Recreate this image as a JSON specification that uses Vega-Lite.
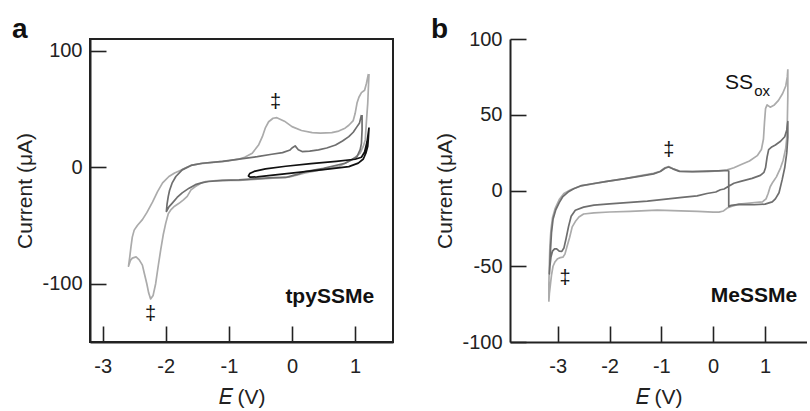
{
  "$schema": "https://vega.github.io/schema/vega-lite/v6.json",
  "padding": {"left": 10, "top": 15, "right": 0, "bottom": 0},
  "background": "white",
  "spacing": 36,
  "config": {
    "font": "Liberation Sans",
    "axis": {
      "grid": false,
      "domainColor": "#222",
      "domainWidth": 2,
      "tickColor": "#222",
      "tickWidth": 1.6,
      "tickSize": -16,
      "labelFont": "Liberation Sans",
      "labelFontSize": 20,
      "labelColor": "#222",
      "titleFont": "Liberation Sans",
      "titleFontSize": 21,
      "titleFontWeight": "normal",
      "titleColor": "#222",
      "format": "d",
      "labelExpr": "replace(datum.label, '\u2212', '-')"
    },
    "axisX": {"labelPadding": 30, "titlePadding": 10},
    "axisY": {"labelPadding": 24, "titlePadding": 6},
    "title": {"font": "Liberation Sans", "fontSize": 28, "fontWeight": "bold", "color": "#111", "anchor": "start", "frame": "bounds"}
  },
  "datasets": {
    "A": [
      {"t":"a1","i":0,"E":1.21,"I":80},{"t":"a1","i":1,"E":1.18,"I":72},{"t":"a1","i":2,"E":1.15,"I":66},{"t":"a1","i":3,"E":1.1,"I":64},{"t":"a1","i":4,"E":1.06,"I":60},{"t":"a1","i":5,"E":1.03,"I":55},{"t":"a1","i":6,"E":1.0,"I":46},{"t":"a1","i":7,"E":0.97,"I":40},{"t":"a1","i":8,"E":0.9,"I":36},{"t":"a1","i":9,"E":0.84,"I":33.5},{"t":"a1","i":10,"E":0.74,"I":31},{"t":"a1","i":11,"E":0.63,"I":29.7},{"t":"a1","i":12,"E":0.45,"I":29.2},{"t":"a1","i":13,"E":0.32,"I":29.7},{"t":"a1","i":14,"E":0.15,"I":31.5},{"t":"a1","i":15,"E":0.0,"I":34.8},{"t":"a1","i":16,"E":-0.12,"I":39.5},{"t":"a1","i":17,"E":-0.24,"I":42.5},{"t":"a1","i":18,"E":-0.3,"I":42},{"t":"a1","i":19,"E":-0.37,"I":39},{"t":"a1","i":20,"E":-0.42,"I":34},{"t":"a1","i":21,"E":-0.47,"I":26.2},{"t":"a1","i":22,"E":-0.53,"I":19},{"t":"a1","i":23,"E":-0.63,"I":12},{"t":"a1","i":24,"E":-0.75,"I":8.5},{"t":"a1","i":25,"E":-0.84,"I":6.9},{"t":"a1","i":26,"E":-1.0,"I":5.5},{"t":"a1","i":27,"E":-1.21,"I":4.3},{"t":"a1","i":28,"E":-1.45,"I":3},{"t":"a1","i":29,"E":-1.6,"I":1.5},{"t":"a1","i":30,"E":-1.7,"I":-1},{"t":"a1","i":31,"E":-1.78,"I":-3},{"t":"a1","i":32,"E":-1.86,"I":-5},{"t":"a1","i":33,"E":-1.95,"I":-8},{"t":"a1","i":34,"E":-2.05,"I":-13.5},{"t":"a1","i":35,"E":-2.13,"I":-21},{"t":"a1","i":36,"E":-2.21,"I":-30},{"t":"a1","i":37,"E":-2.3,"I":-39},{"t":"a1","i":38,"E":-2.37,"I":-45},{"t":"a1","i":39,"E":-2.45,"I":-50},{"t":"a1","i":40,"E":-2.5,"I":-54},{"t":"a1","i":41,"E":-2.53,"I":-60},{"t":"a1","i":42,"E":-2.55,"I":-68},{"t":"a1","i":43,"E":-2.57,"I":-77},{"t":"a1","i":44,"E":-2.59,"I":-85},{"t":"a1","i":45,"E":-2.56,"I":-80},{"t":"a1","i":46,"E":-2.53,"I":-78},{"t":"a1","i":47,"E":-2.47,"I":-77},{"t":"a1","i":48,"E":-2.42,"I":-79.5},{"t":"a1","i":49,"E":-2.37,"I":-84},{"t":"a1","i":50,"E":-2.34,"I":-91},{"t":"a1","i":51,"E":-2.3,"I":-100},{"t":"a1","i":52,"E":-2.27,"I":-108},{"t":"a1","i":53,"E":-2.24,"I":-113},{"t":"a1","i":54,"E":-2.2,"I":-110},{"t":"a1","i":55,"E":-2.16,"I":-100},{"t":"a1","i":56,"E":-2.12,"I":-85},{"t":"a1","i":57,"E":-2.08,"I":-71},{"t":"a1","i":58,"E":-2.04,"I":-58},{"t":"a1","i":59,"E":-2.0,"I":-48},{"t":"a1","i":60,"E":-1.96,"I":-40},{"t":"a1","i":61,"E":-1.92,"I":-36.6},{"t":"a1","i":62,"E":-1.86,"I":-33.5},{"t":"a1","i":63,"E":-1.79,"I":-31},{"t":"a1","i":64,"E":-1.72,"I":-28},{"t":"a1","i":65,"E":-1.66,"I":-25},{"t":"a1","i":66,"E":-1.6,"I":-19.5},{"t":"a1","i":67,"E":-1.53,"I":-16.6},{"t":"a1","i":68,"E":-1.45,"I":-14},{"t":"a1","i":69,"E":-1.37,"I":-12.3},{"t":"a1","i":70,"E":-1.2,"I":-11.5},{"t":"a1","i":71,"E":-1.0,"I":-11.3},{"t":"a1","i":72,"E":-0.84,"I":-11.3},{"t":"a1","i":73,"E":-0.6,"I":-10.5},{"t":"a1","i":74,"E":-0.3,"I":-9.5},{"t":"a1","i":75,"E":-0.05,"I":-8.6},{"t":"a1","i":76,"E":0.21,"I":-5},{"t":"a1","i":77,"E":0.5,"I":-2},{"t":"a1","i":78,"E":0.74,"I":0.5},{"t":"a1","i":79,"E":0.95,"I":6.3},{"t":"a1","i":80,"E":1.08,"I":12},{"t":"a1","i":81,"E":1.13,"I":18},{"t":"a1","i":82,"E":1.16,"I":23.4},{"t":"a1","i":83,"E":1.18,"I":40},{"t":"a1","i":84,"E":1.2,"I":55},{"t":"a1","i":85,"E":1.21,"I":68},{"t":"a1","i":86,"E":1.22,"I":80},
      {"t":"a2","i":0,"E":1.1,"I":44.8},{"t":"a2","i":1,"E":1.07,"I":38},{"t":"a2","i":2,"E":1.03,"I":34.8},{"t":"a2","i":3,"E":0.97,"I":30},{"t":"a2","i":4,"E":0.9,"I":26.2},{"t":"a2","i":5,"E":0.8,"I":22.5},{"t":"a2","i":6,"E":0.69,"I":19},{"t":"a2","i":7,"E":0.55,"I":16.5},{"t":"a2","i":8,"E":0.42,"I":14.8},{"t":"a2","i":9,"E":0.28,"I":13.8},{"t":"a2","i":10,"E":0.16,"I":13.4},{"t":"a2","i":11,"E":0.1,"I":15},{"t":"a2","i":12,"E":0.05,"I":18.3},{"t":"a2","i":13,"E":0.0,"I":16.5},{"t":"a2","i":14,"E":-0.03,"I":14.8},{"t":"a2","i":15,"E":-0.15,"I":12.5},{"t":"a2","i":16,"E":-0.32,"I":11.1},{"t":"a2","i":17,"E":-0.55,"I":9},{"t":"a2","i":18,"E":-0.84,"I":6.9},{"t":"a2","i":19,"E":-1.1,"I":5},{"t":"a2","i":20,"E":-1.42,"I":3.4},{"t":"a2","i":21,"E":-1.6,"I":1.5},{"t":"a2","i":22,"E":-1.74,"I":-2.3},{"t":"a2","i":23,"E":-1.84,"I":-8},{"t":"a2","i":24,"E":-1.9,"I":-13.7},{"t":"a2","i":25,"E":-1.94,"I":-20},{"t":"a2","i":26,"E":-1.96,"I":-25},{"t":"a2","i":27,"E":-1.98,"I":-32},{"t":"a2","i":28,"E":-1.99,"I":-38},{"t":"a2","i":29,"E":-1.95,"I":-34},{"t":"a2","i":30,"E":-1.9,"I":-31},{"t":"a2","i":31,"E":-1.82,"I":-26},{"t":"a2","i":32,"E":-1.74,"I":-22},{"t":"a2","i":33,"E":-1.63,"I":-18},{"t":"a2","i":34,"E":-1.53,"I":-15},{"t":"a2","i":35,"E":-1.42,"I":-13.2},{"t":"a2","i":36,"E":-1.32,"I":-12.3},{"t":"a2","i":37,"E":-1.1,"I":-11.3},{"t":"a2","i":38,"E":-0.84,"I":-10.8},{"t":"a2","i":39,"E":-0.6,"I":-10},{"t":"a2","i":40,"E":-0.3,"I":-9},{"t":"a2","i":41,"E":-0.1,"I":-8.8},{"t":"a2","i":42,"E":0.02,"I":-7},{"t":"a2","i":43,"E":0.1,"I":-6},{"t":"a2","i":44,"E":0.21,"I":-3.7},{"t":"a2","i":45,"E":0.5,"I":-1},{"t":"a2","i":46,"E":0.84,"I":3.4},{"t":"a2","i":47,"E":1.03,"I":9},{"t":"a2","i":48,"E":1.08,"I":15},{"t":"a2","i":49,"E":1.1,"I":20.5},{"t":"a2","i":50,"E":1.11,"I":32},{"t":"a2","i":51,"E":1.11,"I":44.8},
      {"t":"a3","i":0,"E":1.22,"I":34},{"t":"a3","i":1,"E":1.21,"I":25},{"t":"a3","i":2,"E":1.2,"I":18},{"t":"a3","i":3,"E":1.17,"I":12},{"t":"a3","i":4,"E":1.13,"I":7},{"t":"a3","i":5,"E":1.05,"I":3.5},{"t":"a3","i":6,"E":0.9,"I":0.5},{"t":"a3","i":7,"E":0.6,"I":-1.5},{"t":"a3","i":8,"E":0.1,"I":-4.5},{"t":"a3","i":9,"E":-0.3,"I":-6.8},{"t":"a3","i":10,"E":-0.55,"I":-8.3},{"t":"a3","i":11,"E":-0.66,"I":-8.6},{"t":"a3","i":12,"E":-0.69,"I":-7.5},{"t":"a3","i":13,"E":-0.67,"I":-5.5},{"t":"a3","i":14,"E":-0.6,"I":-3.6},{"t":"a3","i":15,"E":-0.42,"I":-1.5},{"t":"a3","i":16,"E":-0.1,"I":0.8},{"t":"a3","i":17,"E":0.3,"I":3},{"t":"a3","i":18,"E":0.7,"I":5},{"t":"a3","i":19,"E":1.0,"I":6.8},{"t":"a3","i":20,"E":1.1,"I":8.5},{"t":"a3","i":21,"E":1.15,"I":13},{"t":"a3","i":22,"E":1.19,"I":22},{"t":"a3","i":23,"E":1.22,"I":34}
    ],
    "B": [
      {"t":"b1","i":0,"E":1.44,"I":80},{"t":"b1","i":1,"E":1.44,"I":62},{"t":"b1","i":2,"E":1.43,"I":45},{"t":"b1","i":3,"E":1.42,"I":35},{"t":"b1","i":4,"E":1.4,"I":28},{"t":"b1","i":5,"E":1.35,"I":20},{"t":"b1","i":6,"E":1.3,"I":15},{"t":"b1","i":7,"E":1.22,"I":9},{"t":"b1","i":8,"E":1.15,"I":5.5},{"t":"b1","i":9,"E":1.1,"I":2.5},{"t":"b1","i":10,"E":1.06,"I":-2},{"t":"b1","i":11,"E":1.02,"I":-5.5},{"t":"b1","i":12,"E":0.95,"I":-7.5},{"t":"b1","i":13,"E":0.75,"I":-8.2},{"t":"b1","i":14,"E":0.5,"I":-9},{"t":"b1","i":15,"E":0.35,"I":-10.5},{"t":"b1","i":16,"E":0.27,"I":-11.6},{"t":"b1","i":17,"E":0.2,"I":-13.5},{"t":"b1","i":18,"E":0.11,"I":-14.3},{"t":"b1","i":19,"E":0.0,"I":-14.3},{"t":"b1","i":20,"E":-0.3,"I":-13.8},{"t":"b1","i":21,"E":-0.63,"I":-13.4},{"t":"b1","i":22,"E":-1.08,"I":-13},{"t":"b1","i":23,"E":-1.6,"I":-13.8},{"t":"b1","i":24,"E":-2.0,"I":-14.2},{"t":"b1","i":25,"E":-2.3,"I":-14.8},{"t":"b1","i":26,"E":-2.5,"I":-15.5},{"t":"b1","i":27,"E":-2.59,"I":-17.5},{"t":"b1","i":28,"E":-2.66,"I":-20.5},{"t":"b1","i":29,"E":-2.72,"I":-24},{"t":"b1","i":30,"E":-2.77,"I":-31},{"t":"b1","i":31,"E":-2.82,"I":-37},{"t":"b1","i":32,"E":-2.86,"I":-42},{"t":"b1","i":33,"E":-2.9,"I":-44},{"t":"b1","i":34,"E":-2.95,"I":-44.3},{"t":"b1","i":35,"E":-3.0,"I":-45},{"t":"b1","i":36,"E":-3.05,"I":-47},{"t":"b1","i":37,"E":-3.09,"I":-50},{"t":"b1","i":38,"E":-3.12,"I":-56},{"t":"b1","i":39,"E":-3.14,"I":-62},{"t":"b1","i":40,"E":-3.16,"I":-68},{"t":"b1","i":41,"E":-3.17,"I":-73},{"t":"b1","i":42,"E":-3.17,"I":-62},{"t":"b1","i":43,"E":-3.16,"I":-48},{"t":"b1","i":44,"E":-3.15,"I":-36},{"t":"b1","i":45,"E":-3.13,"I":-26},{"t":"b1","i":46,"E":-3.1,"I":-18},{"t":"b1","i":47,"E":-3.05,"I":-12},{"t":"b1","i":48,"E":-2.97,"I":-6},{"t":"b1","i":49,"E":-2.88,"I":-2},{"t":"b1","i":50,"E":-2.75,"I":0.5},{"t":"b1","i":51,"E":-2.56,"I":3},{"t":"b1","i":52,"E":-2.3,"I":4.5},{"t":"b1","i":53,"E":-2.05,"I":6},{"t":"b1","i":54,"E":-1.7,"I":7.8},{"t":"b1","i":55,"E":-1.4,"I":9.8},{"t":"b1","i":56,"E":-1.15,"I":11.3},{"t":"b1","i":57,"E":-1.02,"I":12.7},{"t":"b1","i":58,"E":-0.93,"I":15},{"t":"b1","i":59,"E":-0.86,"I":15.8},{"t":"b1","i":60,"E":-0.78,"I":14.5},{"t":"b1","i":61,"E":-0.65,"I":12.8},{"t":"b1","i":62,"E":-0.4,"I":12.4},{"t":"b1","i":63,"E":-0.12,"I":12.5},{"t":"b1","i":64,"E":0.1,"I":13},{"t":"b1","i":65,"E":0.27,"I":13.6},{"t":"b1","i":66,"E":0.4,"I":15},{"t":"b1","i":67,"E":0.53,"I":17},{"t":"b1","i":68,"E":0.7,"I":19.5},{"t":"b1","i":69,"E":0.85,"I":23},{"t":"b1","i":70,"E":0.93,"I":27},{"t":"b1","i":71,"E":0.97,"I":34},{"t":"b1","i":72,"E":0.99,"I":45},{"t":"b1","i":73,"E":1.01,"I":54},{"t":"b1","i":74,"E":1.04,"I":56.5},{"t":"b1","i":75,"E":1.1,"I":55},{"t":"b1","i":76,"E":1.18,"I":56.5},{"t":"b1","i":77,"E":1.26,"I":59.5},{"t":"b1","i":78,"E":1.34,"I":64},{"t":"b1","i":79,"E":1.4,"I":69},{"t":"b1","i":80,"E":1.43,"I":75},{"t":"b1","i":81,"E":1.44,"I":80},
      {"t":"b2","i":0,"E":0.3,"I":13.2},{"t":"b2","i":1,"E":0.1,"I":13},{"t":"b2","i":2,"E":-0.12,"I":12.8},{"t":"b2","i":3,"E":-0.4,"I":12.4},{"t":"b2","i":4,"E":-0.65,"I":12.6},{"t":"b2","i":5,"E":-0.78,"I":14.3},{"t":"b2","i":6,"E":-0.86,"I":15.5},{"t":"b2","i":7,"E":-0.93,"I":14.7},{"t":"b2","i":8,"E":-1.02,"I":12.5},{"t":"b2","i":9,"E":-1.15,"I":11},{"t":"b2","i":10,"E":-1.4,"I":9.5},{"t":"b2","i":11,"E":-1.7,"I":7.8},{"t":"b2","i":12,"E":-2.05,"I":6},{"t":"b2","i":13,"E":-2.3,"I":4.6},{"t":"b2","i":14,"E":-2.56,"I":3},{"t":"b2","i":15,"E":-2.69,"I":1.2},{"t":"b2","i":16,"E":-2.8,"I":-1},{"t":"b2","i":17,"E":-2.9,"I":-4},{"t":"b2","i":18,"E":-2.97,"I":-8},{"t":"b2","i":19,"E":-3.04,"I":-13},{"t":"b2","i":20,"E":-3.09,"I":-19},{"t":"b2","i":21,"E":-3.12,"I":-28},{"t":"b2","i":22,"E":-3.14,"I":-40},{"t":"b2","i":23,"E":-3.15,"I":-48},{"t":"b2","i":24,"E":-3.16,"I":-55},{"t":"b2","i":25,"E":-3.15,"I":-50},{"t":"b2","i":26,"E":-3.13,"I":-44},{"t":"b2","i":27,"E":-3.1,"I":-40},{"t":"b2","i":28,"E":-3.06,"I":-38.5},{"t":"b2","i":29,"E":-3.02,"I":-38.5},{"t":"b2","i":30,"E":-2.97,"I":-40},{"t":"b2","i":31,"E":-2.92,"I":-40.2},{"t":"b2","i":32,"E":-2.88,"I":-38},{"t":"b2","i":33,"E":-2.84,"I":-32},{"t":"b2","i":34,"E":-2.79,"I":-23.7},{"t":"b2","i":35,"E":-2.74,"I":-17},{"t":"b2","i":36,"E":-2.66,"I":-13},{"t":"b2","i":37,"E":-2.5,"I":-11},{"t":"b2","i":38,"E":-2.3,"I":-9.6},{"t":"b2","i":39,"E":-2.0,"I":-8.8},{"t":"b2","i":40,"E":-1.6,"I":-7.8},{"t":"b2","i":41,"E":-1.27,"I":-7},{"t":"b2","i":42,"E":-1.0,"I":-6},{"t":"b2","i":43,"E":-0.6,"I":-4.5},{"t":"b2","i":44,"E":-0.31,"I":-3.5},{"t":"b2","i":45,"E":-0.12,"I":-2},{"t":"b2","i":46,"E":0.05,"I":-1},{"t":"b2","i":47,"E":0.14,"I":0.5},{"t":"b2","i":48,"E":0.21,"I":1},{"t":"b2","i":49,"E":0.29,"I":2.6},{"t":"b2","i":50,"E":0.4,"I":4.8},{"t":"b2","i":51,"E":0.53,"I":6},{"t":"b2","i":52,"E":0.75,"I":8},{"t":"b2","i":53,"E":0.91,"I":10},{"t":"b2","i":54,"E":0.98,"I":12},{"t":"b2","i":55,"E":1.01,"I":15},{"t":"b2","i":56,"E":1.04,"I":22},{"t":"b2","i":57,"E":1.07,"I":27},{"t":"b2","i":58,"E":1.12,"I":28.5},{"t":"b2","i":59,"E":1.2,"I":30},{"t":"b2","i":60,"E":1.3,"I":32.5},{"t":"b2","i":61,"E":1.38,"I":35.5},{"t":"b2","i":62,"E":1.42,"I":40},{"t":"b2","i":63,"E":1.44,"I":45.5},{"t":"b2","i":64,"E":1.44,"I":35},{"t":"b2","i":65,"E":1.42,"I":25},{"t":"b2","i":66,"E":1.38,"I":15},{"t":"b2","i":67,"E":1.33,"I":7},{"t":"b2","i":68,"E":1.27,"I":-1.5},{"t":"b2","i":69,"E":1.2,"I":-5.5},{"t":"b2","i":70,"E":1.14,"I":-7.5},{"t":"b2","i":71,"E":1.0,"I":-9},{"t":"b2","i":72,"E":0.79,"I":-9.4},{"t":"b2","i":73,"E":0.5,"I":-9.2},{"t":"b2","i":74,"E":0.35,"I":-9.8},{"t":"b2","i":75,"E":0.3,"I":-10.5},{"t":"b2","i":76,"E":0.3,"I":13.2}
    ]
  },
  "hconcat": [
    {
      "width": 303,
      "height": 303,
      "view": {"stroke": "#222", "strokeWidth": 2},
      "title": {"text": "a", "dx": -3, "offset": -27, "baseline": "alphabetic"},
      "layer": [
        {
          "data": {"name": "A"},
          "mark": {"type": "line", "strokeWidth": 1.7, "strokeJoin": "round"},
          "encoding": {
            "x": {"field": "E", "type": "quantitative", "scale": {"domain": [-3.2, 1.6], "nice": false, "zero": false}, "axis": {"values": [-3, -2, -1, 0, 1], "title": "𝐸 (V)"}},
            "y": {"field": "I", "type": "quantitative", "scale": {"domain": [-150, 110], "nice": false, "zero": false}, "axis": {"values": [-100, 0, 100], "title": "Current (μA)"}},
            "color": {"field": "t", "type": "nominal", "scale": {"domain": ["a1", "a2", "a3"], "range": ["#ababab", "#6e6e6e", "#111111"]}, "legend": null},
            "order": {"field": "i", "type": "quantitative"}
          }
        },
        {
          "data": {"values": [{"E": -0.26, "I": 56, "s": "‡"}, {"E": -2.24, "I": -126, "s": "‡"}]},
          "mark": {"type": "text", "fontSize": 20, "color": "#111", "baseline": "middle", "align": "center"},
          "encoding": {"x": {"field": "E", "type": "quantitative"}, "y": {"field": "I", "type": "quantitative"}, "text": {"field": "s"}}
        },
        {
          "data": {"values": [{"E": 1.3, "I": -111, "s": "tpySSMe"}]},
          "mark": {"type": "text", "fontSize": 21, "fontWeight": "bold", "color": "#111", "baseline": "middle", "align": "right"},
          "encoding": {"x": {"field": "E", "type": "quantitative"}, "y": {"field": "I", "type": "quantitative"}, "text": {"field": "s"}}
        }
      ]
    },
    {
      "width": 297,
      "height": 303,
      "view": {"stroke": null},
      "title": {"text": "b", "dx": -4, "offset": -37, "baseline": "alphabetic"},
      "layer": [
        {
          "mark": {"type": "rule", "strokeWidth": 2, "color": "#222"},
          "encoding": {"y": {"datum": 100, "type": "quantitative", "scale": {"domain": [-100, 100], "nice": false, "zero": false}}}
        },
        {
          "data": {"name": "B"},
          "mark": {"type": "line", "strokeWidth": 1.7, "strokeJoin": "round"},
          "encoding": {
            "x": {"field": "E", "type": "quantitative", "scale": {"domain": [-3.92, 1.81], "nice": false, "zero": false}, "axis": {"values": [-3, -2, -1, 0, 1], "title": "𝐸 (V)"}},
            "y": {"field": "I", "type": "quantitative", "scale": {"domain": [-100, 100], "nice": false, "zero": false}, "axis": {"values": [-100, -50, 0, 50, 100], "title": "Current (μA)"}},
            "color": {"field": "t", "type": "nominal", "scale": {"domain": ["b1", "b2"], "range": ["#8a8a8a", "#2e2e2e"]}, "legend": null},
            "order": {"field": "i", "type": "quantitative"}
          }
        },
        {
          "data": {"values": [{"E": -0.855, "I": 26.5, "s": "‡"}, {"E": -2.86, "I": -58, "s": "‡"}]},
          "mark": {"type": "text", "fontSize": 20, "color": "#111", "baseline": "middle", "align": "center"},
          "encoding": {"x": {"field": "E", "type": "quantitative"}, "y": {"field": "I", "type": "quantitative"}, "text": {"field": "s"}}
        },
        {
          "data": {"values": [{"E": 0.226, "I": 70.7, "s": "SS"}]},
          "mark": {"type": "text", "fontSize": 21, "color": "#111", "baseline": "middle", "align": "left"},
          "encoding": {"x": {"field": "E", "type": "quantitative"}, "y": {"field": "I", "type": "quantitative"}, "text": {"field": "s"}}
        },
        {
          "data": {"values": [{"E": 0.79, "I": 66, "s": "ox"}]},
          "mark": {"type": "text", "fontSize": 15, "color": "#111", "baseline": "middle", "align": "left"},
          "encoding": {"x": {"field": "E", "type": "quantitative"}, "y": {"field": "I", "type": "quantitative"}, "text": {"field": "s"}}
        },
        {
          "data": {"values": [{"E": 1.62, "I": -69.5, "s": "MeSSMe"}]},
          "mark": {"type": "text", "fontSize": 21, "fontWeight": "bold", "color": "#111", "baseline": "middle", "align": "right"},
          "encoding": {"x": {"field": "E", "type": "quantitative"}, "y": {"field": "I", "type": "quantitative"}, "text": {"field": "s"}}
        }
      ]
    }
  ]
}
